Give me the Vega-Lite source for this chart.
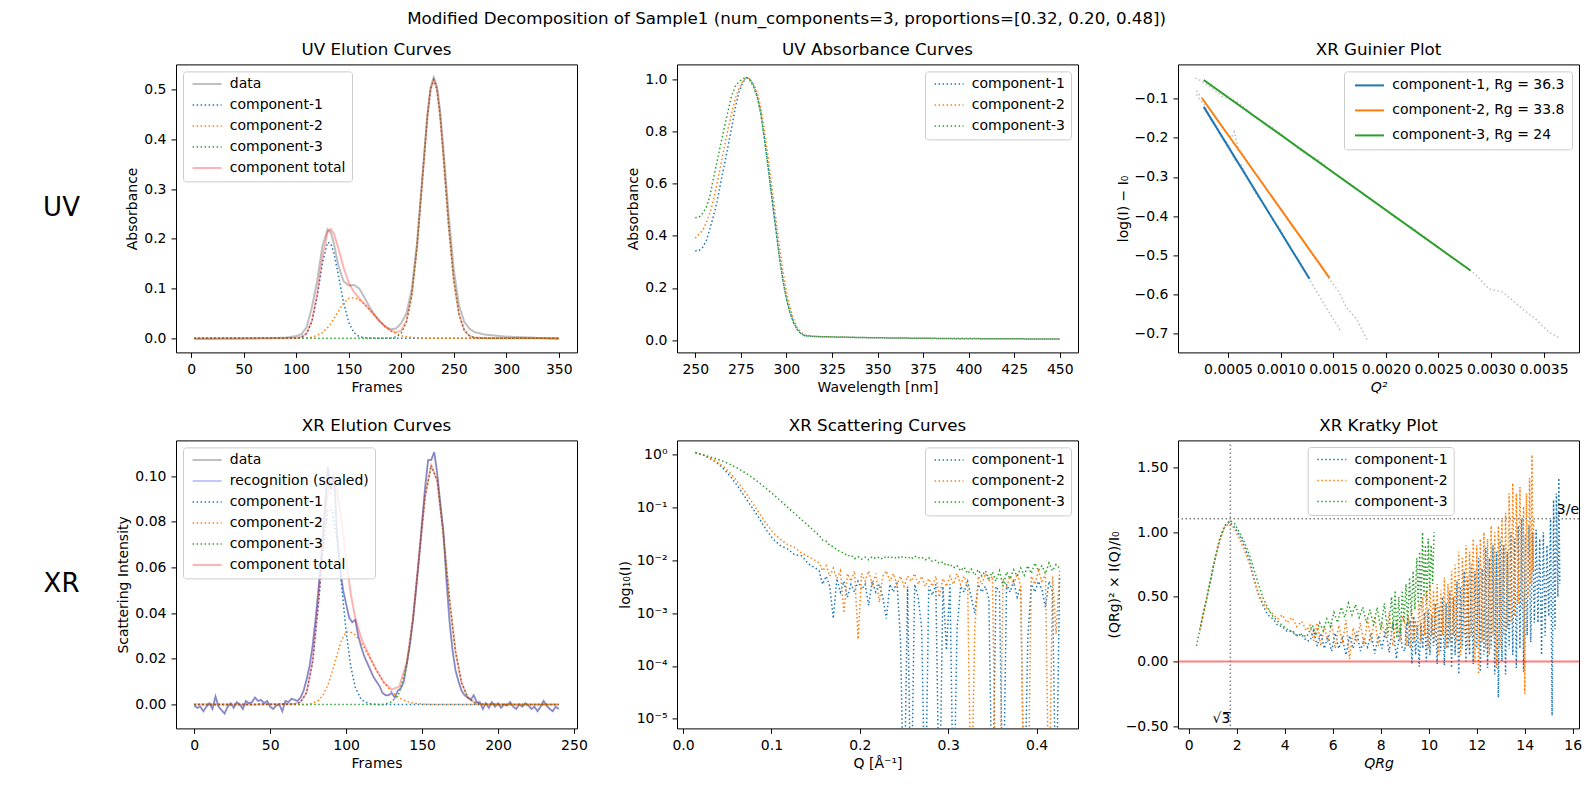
{
  "$schema": "https://vega.github.io/schema/vega-lite/v6.json",
  "title": {
    "text": "Modified Decomposition of Sample1 (num_components=3, proportions=[0.32, 0.20, 0.48])",
    "fontSize": 16.7,
    "fontWeight": "normal",
    "anchor": "middle",
    "offset": 13.7,
    "dx": -26
  },
  "padding": {"left": 43, "top": 11.4, "right": 5, "bottom": 5},
  "bounds": "flush",
  "columns": 4,
  "spacing": {"row": 88, "column": 100},
  "resolve": {
    "scale": {"x": "independent", "y": "independent", "color": "independent", "strokeDash": "independent", "strokeWidth": "independent"},
    "axis": {"x": "independent", "y": "independent"},
    "legend": {"color": "independent", "strokeDash": "independent", "strokeWidth": "independent"}
  },
  "datasets": {
    "uv_elution": [
      {"frame": 3, "data": -0.002, "component-1": 0, "component-2": 0, "component-3": 0, "component total": 0},
      {"frame": 25, "data": -0.0015, "component-1": 0, "component-2": 0, "component-3": 0, "component total": 0},
      {"frame": 50, "data": -0.001, "component-1": 0, "component-2": 0, "component-3": 0, "component total": 0},
      {"frame": 75, "data": 0.0, "component-1": 0, "component-2": 0, "component-3": 0, "component total": 0},
      {"frame": 90, "data": 0.001, "component-1": 0, "component-2": 0, "component-3": 0, "component total": 0},
      {"frame": 100, "data": 0.004, "component-1": 0.0003, "component-2": 0, "component-3": 0, "component total": 0.0003},
      {"frame": 105, "data": 0.008, "component-1": 0.0018, "component-2": 0.0002, "component-3": 0, "component total": 0.002},
      {"frame": 110, "data": 0.022, "component-1": 0.0092, "component-2": 0.0007, "component-3": 0, "component total": 0.0099},
      {"frame": 115, "data": 0.062, "component-1": 0.033, "component-2": 0.0021, "component-3": 0, "component total": 0.0351},
      {"frame": 120, "data": 0.115, "component-1": 0.084, "component-2": 0.0051, "component-3": 0, "component total": 0.0891},
      {"frame": 125, "data": 0.185, "component-1": 0.151, "component-2": 0.0111, "component-3": 0, "component total": 0.162},
      {"frame": 130, "data": 0.219, "component-1": 0.193, "component-2": 0.0212, "component-3": 0, "component total": 0.214},
      {"frame": 133, "data": 0.213, "component-1": 0.19, "component-2": 0.0295, "component-3": 0, "component total": 0.2195},
      {"frame": 136, "data": 0.19, "component-1": 0.171, "component-2": 0.0392, "component-3": 0, "component total": 0.21},
      {"frame": 140, "data": 0.148, "component-1": 0.129, "component-2": 0.0533, "component-3": 0, "component total": 0.182},
      {"frame": 145, "data": 0.115, "component-1": 0.073, "component-2": 0.0696, "component-3": 0, "component total": 0.143},
      {"frame": 150, "data": 0.106, "component-1": 0.032, "component-2": 0.0801, "component-3": 0, "component total": 0.112},
      {"frame": 155, "data": 0.107, "component-1": 0.011, "component-2": 0.0816, "component-3": 0, "component total": 0.093},
      {"frame": 160, "data": 0.1, "component-1": 0.003, "component-2": 0.0772, "component-3": 0, "component total": 0.08},
      {"frame": 165, "data": 0.082, "component-1": 0.0006, "component-2": 0.0685, "component-3": 0, "component total": 0.069},
      {"frame": 170, "data": 0.062, "component-1": 0.0001, "component-2": 0.0571, "component-3": 0, "component total": 0.057},
      {"frame": 175, "data": 0.046, "component-1": 0, "component-2": 0.0448, "component-3": 0, "component total": 0.0448},
      {"frame": 180, "data": 0.033, "component-1": 0, "component-2": 0.033, "component-3": 0, "component total": 0.033},
      {"frame": 185, "data": 0.023, "component-1": 0, "component-2": 0.0228, "component-3": 0, "component total": 0.0228},
      {"frame": 190, "data": 0.018, "component-1": 0, "component-2": 0.0148, "component-3": 0.0005, "component total": 0.0153},
      {"frame": 195, "data": 0.019, "component-1": 0, "component-2": 0.009, "component-3": 0.0025, "component total": 0.0115},
      {"frame": 200, "data": 0.03, "component-1": 0, "component-2": 0.0052, "component-3": 0.0098, "component total": 0.015},
      {"frame": 205, "data": 0.05, "component-1": 0, "component-2": 0.0028, "component-3": 0.032, "component total": 0.0348},
      {"frame": 210, "data": 0.098, "component-1": 0, "component-2": 0.0014, "component-3": 0.084, "component total": 0.0854},
      {"frame": 215, "data": 0.19, "component-1": 0, "component-2": 0.0007, "component-3": 0.181, "component total": 0.1817},
      {"frame": 220, "data": 0.32, "component-1": 0, "component-2": 0.0003, "component-3": 0.315, "component total": 0.3153},
      {"frame": 225, "data": 0.45, "component-1": 0, "component-2": 0, "component-3": 0.448, "component total": 0.448},
      {"frame": 228, "data": 0.505, "component-1": 0, "component-2": 0, "component-3": 0.501, "component total": 0.501},
      {"frame": 231, "data": 0.525, "component-1": 0, "component-2": 0, "component-3": 0.52, "component total": 0.52},
      {"frame": 234, "data": 0.508, "component-1": 0, "component-2": 0, "component-3": 0.501, "component total": 0.501},
      {"frame": 237, "data": 0.458, "component-1": 0, "component-2": 0, "component-3": 0.448, "component total": 0.448},
      {"frame": 240, "data": 0.385, "component-1": 0, "component-2": 0, "component-3": 0.372, "component total": 0.372},
      {"frame": 245, "data": 0.252, "component-1": 0, "component-2": 0, "component-3": 0.231, "component total": 0.231},
      {"frame": 250, "data": 0.138, "component-1": 0, "component-2": 0, "component-3": 0.117, "component total": 0.117},
      {"frame": 255, "data": 0.066, "component-1": 0, "component-2": 0, "component-3": 0.048, "component total": 0.048},
      {"frame": 260, "data": 0.033, "component-1": 0, "component-2": 0, "component-3": 0.016, "component total": 0.016},
      {"frame": 265, "data": 0.019, "component-1": 0, "component-2": 0, "component-3": 0.0044, "component total": 0.0044},
      {"frame": 270, "data": 0.012, "component-1": 0, "component-2": 0, "component-3": 0.001, "component total": 0.001},
      {"frame": 280, "data": 0.007, "component-1": 0, "component-2": 0, "component-3": 0, "component total": 0},
      {"frame": 300, "data": 0.003, "component-1": 0, "component-2": 0, "component-3": 0, "component total": 0},
      {"frame": 325, "data": 0.001, "component-1": 0, "component-2": 0, "component-3": 0, "component total": 0},
      {"frame": 350, "data": -0.002, "component-1": 0, "component-2": 0, "component-3": 0, "component total": 0}
    ],
    "uv_absorbance": [
      {"w": 250, "component-1": 0.342, "component-2": 0.39, "component-3": 0.469},
      {"w": 252, "component-1": 0.342, "component-2": 0.405, "component-3": 0.47},
      {"w": 254, "component-1": 0.355, "component-2": 0.42, "component-3": 0.485},
      {"w": 256, "component-1": 0.379, "component-2": 0.448, "component-3": 0.508},
      {"w": 258, "component-1": 0.425, "component-2": 0.485, "component-3": 0.55},
      {"w": 260, "component-1": 0.475, "component-2": 0.535, "component-3": 0.62},
      {"w": 262, "component-1": 0.53, "component-2": 0.6, "component-3": 0.685},
      {"w": 264, "component-1": 0.604, "component-2": 0.67, "component-3": 0.751},
      {"w": 266, "component-1": 0.672, "component-2": 0.74, "component-3": 0.815},
      {"w": 268, "component-1": 0.742, "component-2": 0.81, "component-3": 0.878},
      {"w": 270, "component-1": 0.815, "component-2": 0.87, "component-3": 0.935},
      {"w": 272, "component-1": 0.89, "component-2": 0.925, "component-3": 0.972},
      {"w": 274, "component-1": 0.95, "component-2": 0.965, "component-3": 0.99},
      {"w": 276, "component-1": 0.985, "component-2": 0.99, "component-3": 1.0},
      {"w": 278, "component-1": 1.005, "component-2": 1.005, "component-3": 1.008},
      {"w": 280, "component-1": 1.0, "component-2": 1.0, "component-3": 0.995},
      {"w": 282, "component-1": 0.975, "component-2": 0.98, "component-3": 0.97},
      {"w": 284, "component-1": 0.935, "component-2": 0.95, "component-3": 0.93},
      {"w": 286, "component-1": 0.87, "component-2": 0.89, "component-3": 0.865},
      {"w": 288, "component-1": 0.77, "component-2": 0.8, "component-3": 0.765},
      {"w": 290, "component-1": 0.665, "component-2": 0.7, "component-3": 0.66},
      {"w": 292, "component-1": 0.55, "component-2": 0.59, "component-3": 0.545},
      {"w": 294, "component-1": 0.44, "component-2": 0.48, "component-3": 0.435},
      {"w": 296, "component-1": 0.33, "component-2": 0.37, "component-3": 0.325},
      {"w": 298, "component-1": 0.235, "component-2": 0.27, "component-3": 0.23},
      {"w": 300, "component-1": 0.16, "component-2": 0.185, "component-3": 0.158},
      {"w": 302, "component-1": 0.107, "component-2": 0.125, "component-3": 0.105},
      {"w": 304, "component-1": 0.066, "component-2": 0.08, "component-3": 0.065},
      {"w": 306, "component-1": 0.04, "component-2": 0.048, "component-3": 0.04},
      {"w": 308, "component-1": 0.025, "component-2": 0.03, "component-3": 0.025},
      {"w": 310, "component-1": 0.017, "component-2": 0.02, "component-3": 0.017},
      {"w": 315, "component-1": 0.014, "component-2": 0.015, "component-3": 0.014},
      {"w": 320, "component-1": 0.013, "component-2": 0.013, "component-3": 0.013},
      {"w": 330, "component-1": 0.011, "component-2": 0.012, "component-3": 0.012},
      {"w": 340, "component-1": 0.01, "component-2": 0.01, "component-3": 0.01},
      {"w": 350, "component-1": 0.009, "component-2": 0.009, "component-3": 0.009},
      {"w": 375, "component-1": 0.007, "component-2": 0.007, "component-3": 0.007},
      {"w": 400, "component-1": 0.006, "component-2": 0.006, "component-3": 0.005},
      {"w": 425, "component-1": 0.005, "component-2": 0.005, "component-3": 0.005},
      {"w": 450, "component-1": 0.004, "component-2": 0.004, "component-3": 0.004}
    ],
    "guinier_fit": [
      {"s": "component-1, Rg = 36.3", "x": 0.000269, "y": -0.1212},
      {"s": "component-1, Rg = 36.3", "x": 0.001274, "y": -0.56},
      {"s": "component-2, Rg = 33.8", "x": 0.000253, "y": -0.0992},
      {"s": "component-2, Rg = 33.8", "x": 0.001464, "y": -0.5576},
      {"s": "component-3, Rg = 24", "x": 0.000269, "y": -0.0525},
      {"s": "component-3, Rg = 24", "x": 0.002805, "y": -0.539}
    ],
    "guinier_data": [
      {"g": 1, "x": 0.0002, "y": -0.09}, {"g": 1, "x": 0.00024, "y": -0.105}, {"g": 1, "x": 0.00028, "y": -0.118},
      {"g": 1, "x": 0.00033, "y": -0.15}, {"g": 1, "x": 0.00038, "y": -0.168}, {"g": 1, "x": 0.00044, "y": -0.2},
      {"g": 1, "x": 0.0005, "y": -0.215}, {"g": 1, "x": 0.00056, "y": -0.255}, {"g": 1, "x": 0.00063, "y": -0.27},
      {"g": 1, "x": 0.0007, "y": -0.31}, {"g": 1, "x": 0.00077, "y": -0.345}, {"g": 1, "x": 0.00085, "y": -0.375},
      {"g": 1, "x": 0.00093, "y": -0.41}, {"g": 1, "x": 0.00101, "y": -0.44}, {"g": 1, "x": 0.0011, "y": -0.485},
      {"g": 1, "x": 0.00119, "y": -0.52}, {"g": 1, "x": 0.00128, "y": -0.565}, {"g": 1, "x": 0.00137, "y": -0.605},
      {"g": 1, "x": 0.00147, "y": -0.65}, {"g": 1, "x": 0.00158, "y": -0.697},
      {"g": 2, "x": 0.0002, "y": -0.08}, {"g": 2, "x": 0.00024, "y": -0.095}, {"g": 2, "x": 0.00028, "y": -0.108},
      {"g": 2, "x": 0.00033, "y": -0.13}, {"g": 2, "x": 0.00039, "y": -0.152}, {"g": 2, "x": 0.00046, "y": -0.178},
      {"g": 2, "x": 0.00053, "y": -0.2}, {"g": 2, "x": 0.00056, "y": -0.185}, {"g": 2, "x": 0.0006, "y": -0.228},
      {"g": 2, "x": 0.00068, "y": -0.258}, {"g": 2, "x": 0.00076, "y": -0.293}, {"g": 2, "x": 0.00084, "y": -0.318},
      {"g": 2, "x": 0.00093, "y": -0.357}, {"g": 2, "x": 0.00102, "y": -0.388}, {"g": 2, "x": 0.00111, "y": -0.428},
      {"g": 2, "x": 0.0012, "y": -0.455}, {"g": 2, "x": 0.00129, "y": -0.495}, {"g": 2, "x": 0.00138, "y": -0.522},
      {"g": 2, "x": 0.00146, "y": -0.56}, {"g": 2, "x": 0.00155, "y": -0.592}, {"g": 2, "x": 0.00163, "y": -0.635},
      {"g": 2, "x": 0.00172, "y": -0.662}, {"g": 2, "x": 0.00182, "y": -0.715},
      {"g": 3, "x": 0.00019, "y": -0.047}, {"g": 3, "x": 0.00028, "y": -0.06}, {"g": 3, "x": 0.00045, "y": -0.095},
      {"g": 3, "x": 0.0006, "y": -0.11}, {"g": 3, "x": 0.00075, "y": -0.145}, {"g": 3, "x": 0.0009, "y": -0.17},
      {"g": 3, "x": 0.00105, "y": -0.2}, {"g": 3, "x": 0.0012, "y": -0.235}, {"g": 3, "x": 0.00135, "y": -0.255},
      {"g": 3, "x": 0.0015, "y": -0.29}, {"g": 3, "x": 0.00165, "y": -0.315}, {"g": 3, "x": 0.0018, "y": -0.345},
      {"g": 3, "x": 0.00195, "y": -0.375}, {"g": 3, "x": 0.0021, "y": -0.405}, {"g": 3, "x": 0.00225, "y": -0.43},
      {"g": 3, "x": 0.0024, "y": -0.46}, {"g": 3, "x": 0.00255, "y": -0.49}, {"g": 3, "x": 0.0027, "y": -0.52},
      {"g": 3, "x": 0.00285, "y": -0.548}, {"g": 3, "x": 0.00298, "y": -0.586}, {"g": 3, "x": 0.00311, "y": -0.594},
      {"g": 3, "x": 0.0033, "y": -0.637}, {"g": 3, "x": 0.00342, "y": -0.662}, {"g": 3, "x": 0.00355, "y": -0.696},
      {"g": 3, "x": 0.00365, "y": -0.711}
    ],
    "xr_elution": [
      {"f": 0, "data": -0.0005, "recognition (scaled)": -0.0005}, {"f": 2, "data": -0.0015, "recognition (scaled)": -0.0015},
      {"f": 4, "data": -0.001, "recognition (scaled)": -0.001}, {"f": 6, "data": -0.003, "recognition (scaled)": -0.003},
      {"f": 8, "data": -0.001, "recognition (scaled)": -0.001}, {"f": 10, "data": 0.0005, "recognition (scaled)": 0.0005},
      {"f": 12, "data": -0.002, "recognition (scaled)": -0.002}, {"f": 14, "data": 0.0035, "recognition (scaled)": 0.0035},
      {"f": 16, "data": -0.001, "recognition (scaled)": -0.001}, {"f": 18, "data": -0.0025, "recognition (scaled)": -0.0025},
      {"f": 20, "data": -0.004, "recognition (scaled)": -0.004}, {"f": 22, "data": -0.001, "recognition (scaled)": -0.001},
      {"f": 24, "data": 0.0005, "recognition (scaled)": 0.0005}, {"f": 26, "data": -0.0015, "recognition (scaled)": -0.0015},
      {"f": 28, "data": 0.001, "recognition (scaled)": 0.001}, {"f": 30, "data": 0.0, "recognition (scaled)": 0.0},
      {"f": 32, "data": -0.002, "recognition (scaled)": -0.002}, {"f": 34, "data": 0.0015, "recognition (scaled)": 0.0015},
      {"f": 36, "data": 0.0005, "recognition (scaled)": 0.0005}, {"f": 38, "data": 0.001, "recognition (scaled)": 0.001},
      {"f": 40, "data": 0.003, "recognition (scaled)": 0.003}, {"f": 42, "data": 0.0015, "recognition (scaled)": 0.0015},
      {"f": 44, "data": 0.002, "recognition (scaled)": 0.002}, {"f": 46, "data": 0.0005, "recognition (scaled)": 0.0005},
      {"f": 48, "data": 0.0015, "recognition (scaled)": 0.0015}, {"f": 50, "data": -0.001, "recognition (scaled)": -0.001},
      {"f": 52, "data": -0.002, "recognition (scaled)": -0.002}, {"f": 54, "data": -0.0005, "recognition (scaled)": -0.0005},
      {"f": 56, "data": 0.0, "recognition (scaled)": 0.0}, {"f": 58, "data": -0.003, "recognition (scaled)": -0.003},
      {"f": 60, "data": 0.0015, "recognition (scaled)": 0.0015}, {"f": 62, "data": 0.001, "recognition (scaled)": 0.001},
      {"f": 64, "data": 0.0025, "recognition (scaled)": 0.0025}, {"f": 66, "data": 0.002, "recognition (scaled)": 0.002},
      {"f": 68, "data": 0.0015, "recognition (scaled)": 0.0015}, {"f": 70, "data": 0.003, "recognition (scaled)": 0.003},
      {"f": 72, "data": 0.006, "recognition (scaled)": 0.006}, {"f": 74, "data": 0.011, "recognition (scaled)": 0.011},
      {"f": 76, "data": 0.017, "recognition (scaled)": 0.017}, {"f": 78, "data": 0.026, "recognition (scaled)": 0.026},
      {"f": 80, "data": 0.038, "recognition (scaled)": 0.038}, {"f": 82, "data": 0.052, "recognition (scaled)": 0.052},
      {"f": 84, "data": 0.068, "recognition (scaled)": 0.068}, {"f": 86, "data": 0.086, "recognition (scaled)": 0.086},
      {"f": 88, "data": 0.104, "recognition (scaled)": 0.104}, {"f": 90, "data": 0.094, "recognition (scaled)": 0.094},
      {"f": 92, "data": 0.1, "recognition (scaled)": 0.1}, {"f": 94, "data": 0.075, "recognition (scaled)": 0.075},
      {"f": 96, "data": 0.06, "recognition (scaled)": 0.06}, {"f": 98, "data": 0.05, "recognition (scaled)": 0.05},
      {"f": 100, "data": 0.044, "recognition (scaled)": 0.044}, {"f": 102, "data": 0.038, "recognition (scaled)": 0.038},
      {"f": 104, "data": 0.036, "recognition (scaled)": 0.036}, {"f": 106, "data": 0.037, "recognition (scaled)": 0.037},
      {"f": 108, "data": 0.03, "recognition (scaled)": 0.03}, {"f": 110, "data": 0.025, "recognition (scaled)": 0.025},
      {"f": 112, "data": 0.021, "recognition (scaled)": 0.021}, {"f": 114, "data": 0.018, "recognition (scaled)": 0.018},
      {"f": 116, "data": 0.015, "recognition (scaled)": 0.015}, {"f": 118, "data": 0.012, "recognition (scaled)": 0.012},
      {"f": 120, "data": 0.01, "recognition (scaled)": 0.01}, {"f": 122, "data": 0.008, "recognition (scaled)": 0.008},
      {"f": 124, "data": 0.005, "recognition (scaled)": 0.005}, {"f": 126, "data": 0.004, "recognition (scaled)": 0.004},
      {"f": 128, "data": 0.004, "recognition (scaled)": 0.004}, {"f": 130, "data": 0.005, "recognition (scaled)": 0.005},
      {"f": 132, "data": 0.003, "recognition (scaled)": 0.003}, {"f": 134, "data": 0.006, "recognition (scaled)": 0.006},
      {"f": 136, "data": 0.007, "recognition (scaled)": 0.007}, {"f": 138, "data": 0.01, "recognition (scaled)": 0.01},
      {"f": 140, "data": 0.018, "recognition (scaled)": 0.018}, {"f": 142, "data": 0.026, "recognition (scaled)": 0.026},
      {"f": 144, "data": 0.037, "recognition (scaled)": 0.037}, {"f": 146, "data": 0.05, "recognition (scaled)": 0.05},
      {"f": 148, "data": 0.064, "recognition (scaled)": 0.064}, {"f": 150, "data": 0.08, "recognition (scaled)": 0.08},
      {"f": 152, "data": 0.095, "recognition (scaled)": 0.095}, {"f": 154, "data": 0.107, "recognition (scaled)": 0.107},
      {"f": 156, "data": 0.107, "recognition (scaled)": 0.107}, {"f": 158, "data": 0.1105, "recognition (scaled)": 0.1105},
      {"f": 160, "data": 0.101, "recognition (scaled)": 0.101}, {"f": 162, "data": 0.088, "recognition (scaled)": 0.088},
      {"f": 164, "data": 0.076, "recognition (scaled)": 0.076}, {"f": 166, "data": 0.055, "recognition (scaled)": 0.055},
      {"f": 168, "data": 0.037, "recognition (scaled)": 0.037}, {"f": 170, "data": 0.024, "recognition (scaled)": 0.024},
      {"f": 172, "data": 0.015, "recognition (scaled)": 0.015}, {"f": 174, "data": 0.01, "recognition (scaled)": 0.01},
      {"f": 176, "data": 0.006, "recognition (scaled)": 0.006}, {"f": 178, "data": 0.004, "recognition (scaled)": 0.004},
      {"f": 180, "data": 0.003, "recognition (scaled)": 0.003}, {"f": 182, "data": 0.002, "recognition (scaled)": 0.002},
      {"f": 184, "data": 0.004, "recognition (scaled)": 0.004}, {"f": 186, "data": 0.001, "recognition (scaled)": 0.001},
      {"f": 188, "data": 0.001, "recognition (scaled)": 0.001}, {"f": 190, "data": -0.002, "recognition (scaled)": -0.002},
      {"f": 192, "data": 0.0005, "recognition (scaled)": 0.0005}, {"f": 194, "data": -0.0015, "recognition (scaled)": -0.0015},
      {"f": 196, "data": 0.001, "recognition (scaled)": 0.001}, {"f": 198, "data": -0.001, "recognition (scaled)": -0.001},
      {"f": 200, "data": 0.0005, "recognition (scaled)": 0.0005}, {"f": 202, "data": -0.0015, "recognition (scaled)": -0.0015},
      {"f": 204, "data": 0.0, "recognition (scaled)": 0.0}, {"f": 206, "data": -0.0005, "recognition (scaled)": -0.0005},
      {"f": 208, "data": 0.001, "recognition (scaled)": 0.001}, {"f": 210, "data": -0.001, "recognition (scaled)": -0.001},
      {"f": 212, "data": -0.002, "recognition (scaled)": -0.002}, {"f": 214, "data": 0.0, "recognition (scaled)": 0.0},
      {"f": 216, "data": -0.001, "recognition (scaled)": -0.001}, {"f": 218, "data": 0.0005, "recognition (scaled)": 0.0005},
      {"f": 220, "data": -0.0005, "recognition (scaled)": -0.0005}, {"f": 222, "data": -0.002, "recognition (scaled)": -0.002},
      {"f": 224, "data": -0.001, "recognition (scaled)": -0.001}, {"f": 226, "data": -0.003, "recognition (scaled)": -0.003},
      {"f": 228, "data": -0.001, "recognition (scaled)": -0.001}, {"f": 230, "data": 0.0015, "recognition (scaled)": 0.0015},
      {"f": 232, "data": -0.0005, "recognition (scaled)": -0.0005}, {"f": 234, "data": -0.002, "recognition (scaled)": -0.002},
      {"f": 236, "data": -0.003, "recognition (scaled)": -0.003}, {"f": 238, "data": -0.001, "recognition (scaled)": -0.001},
      {"f": 240, "data": -0.002, "recognition (scaled)": -0.002}
    ],
    "xr_components": [
      {"f": 0, "component-1": 0, "component-2": 0, "component-3": 0, "component total": 0},
      {"f": 40, "component-1": 0, "component-2": 0, "component-3": 0, "component total": 0},
      {"f": 66, "component-1": 0.0002, "component-2": 0, "component-3": 0, "component total": 0.0002},
      {"f": 70, "component-1": 0.001, "component-2": 0, "component-3": 0, "component total": 0.001},
      {"f": 74, "component-1": 0.0052, "component-2": 0, "component-3": 0, "component total": 0.0052},
      {"f": 78, "component-1": 0.0187, "component-2": 0.0005, "component-3": 0, "component total": 0.0192},
      {"f": 82, "component-1": 0.0455, "component-2": 0.0019, "component-3": 0, "component total": 0.0474},
      {"f": 85, "component-1": 0.0692, "component-2": 0.0043, "component-3": 0, "component total": 0.0735},
      {"f": 88, "component-1": 0.085, "component-2": 0.0085, "component-3": 0, "component total": 0.0935},
      {"f": 91, "component-1": 0.085, "component-2": 0.0147, "component-3": 0, "component total": 0.0997},
      {"f": 94, "component-1": 0.072, "component-2": 0.0218, "component-3": 0, "component total": 0.0938},
      {"f": 97, "component-1": 0.052, "component-2": 0.0282, "component-3": 0, "component total": 0.0802},
      {"f": 100, "component-1": 0.032, "component-2": 0.0317, "component-3": 0, "component total": 0.0637},
      {"f": 103, "component-1": 0.0168, "component-2": 0.0317, "component-3": 0, "component total": 0.0485},
      {"f": 106, "component-1": 0.0075, "component-2": 0.0304, "component-3": 0, "component total": 0.0379},
      {"f": 110, "component-1": 0.002, "component-2": 0.027, "component-3": 0, "component total": 0.029},
      {"f": 115, "component-1": 0.0003, "component-2": 0.0212, "component-3": 0, "component total": 0.0215},
      {"f": 120, "component-1": 0, "component-2": 0.0149, "component-3": 0, "component total": 0.0149},
      {"f": 125, "component-1": 0, "component-2": 0.0095, "component-3": 0, "component total": 0.0095},
      {"f": 130, "component-1": 0, "component-2": 0.0054, "component-3": 0.0011, "component total": 0.0065},
      {"f": 135, "component-1": 0, "component-2": 0.0028, "component-3": 0.005, "component total": 0.0078},
      {"f": 140, "component-1": 0, "component-2": 0.0013, "component-3": 0.0174, "component total": 0.0187},
      {"f": 144, "component-1": 0, "component-2": 0.0006, "component-3": 0.0371, "component total": 0.0377},
      {"f": 148, "component-1": 0, "component-2": 0.0003, "component-3": 0.0645, "component total": 0.0648},
      {"f": 152, "component-1": 0, "component-2": 0.0001, "component-3": 0.091, "component total": 0.0911},
      {"f": 156, "component-1": 0, "component-2": 0, "component-3": 0.1047, "component total": 0.1047},
      {"f": 160, "component-1": 0, "component-2": 0, "component-3": 0.0979, "component total": 0.0979},
      {"f": 164, "component-1": 0, "component-2": 0, "component-3": 0.0745, "component total": 0.0745},
      {"f": 168, "component-1": 0, "component-2": 0, "component-3": 0.0461, "component total": 0.0461},
      {"f": 172, "component-1": 0, "component-2": 0, "component-3": 0.0232, "component total": 0.0232},
      {"f": 176, "component-1": 0, "component-2": 0, "component-3": 0.0095, "component total": 0.0095},
      {"f": 180, "component-1": 0, "component-2": 0, "component-3": 0.0032, "component total": 0.0032},
      {"f": 185, "component-1": 0, "component-2": 0, "component-3": 0.0006, "component total": 0.0006},
      {"f": 190, "component-1": 0, "component-2": 0, "component-3": 0.0001, "component total": 0.0001},
      {"f": 200, "component-1": 0, "component-2": 0, "component-3": 0, "component total": 0},
      {"f": 240, "component-1": 0, "component-2": 0, "component-3": 0, "component total": 0}
    ],
    "xr_scattering": [
      {"q": 0.014, "component-1": 1.096, "component-2": 1.096, "component-3": 1.096},
      {"q": 0.022, "component-1": 1.0, "component-2": 1.0, "component-3": 1.0},
      {"q": 0.030, "component-1": 0.851, "component-2": 0.871, "component-3": 0.912},
      {"q": 0.038, "component-1": 0.708, "component-2": 0.741, "component-3": 0.832},
      {"q": 0.046, "component-1": 0.537, "component-2": 0.589, "component-3": 0.741},
      {"q": 0.054, "component-1": 0.38, "component-2": 0.437, "component-3": 0.646},
      {"q": 0.062, "component-1": 0.251, "component-2": 0.302, "component-3": 0.55},
      {"q": 0.070, "component-1": 0.158, "component-2": 0.2, "component-3": 0.457},
      {"q": 0.078, "component-1": 0.1, "component-2": 0.126, "component-3": 0.372},
      {"q": 0.086, "component-1": 0.063, "component-2": 0.079, "component-3": 0.295},
      {"q": 0.094, "component-1": 0.038, "component-2": 0.05, "component-3": 0.229},
      {"q": 0.102, "component-1": 0.0251, "component-2": 0.0331, "component-3": 0.178},
      {"q": 0.110, "component-1": 0.019, "component-2": 0.0251, "component-3": 0.135},
      {"q": 0.118, "component-1": 0.0165, "component-2": 0.02, "component-3": 0.102},
      {"q": 0.126, "component-1": 0.0128, "component-2": 0.0175, "component-3": 0.0776},
      {"q": 0.134, "component-1": 0.0122, "component-2": 0.0138, "component-3": 0.0589},
      {"q": 0.142, "component-1": 0.0085, "component-2": 0.0117, "component-3": 0.0447},
      {"q": 0.150, "component-1": 0.0071, "component-2": 0.0098, "component-3": 0.0339},
      {"q": 0.154, "component-1": 0.0063, "component-2": 0.0089, "component-3": 0.0295},
      {"q": 0.158, "component-1": 0.0035, "component-2": 0.0063, "component-3": 0.024},
      {"q": 0.162, "component-1": 0.005, "component-2": 0.0079, "component-3": 0.0229},
      {"q": 0.166, "component-1": 0.0032, "component-2": 0.005, "component-3": 0.019},
      {"q": 0.170, "component-1": 0.00079, "component-2": 0.0071, "component-3": 0.0182},
      {"q": 0.174, "component-1": 0.0045, "component-2": 0.0045, "component-3": 0.0158},
      {"q": 0.178, "component-1": 0.0025, "component-2": 0.0063, "component-3": 0.0145},
      {"q": 0.182, "component-1": 0.004, "component-2": 0.001, "component-3": 0.0138},
      {"q": 0.186, "component-1": 0.002, "component-2": 0.0056, "component-3": 0.012},
      {"q": 0.190, "component-1": 0.0035, "component-2": 0.004, "component-3": 0.0126},
      {"q": 0.194, "component-1": 0.0025, "component-2": 0.0063, "component-3": 0.0107},
      {"q": 0.198, "component-1": 0.004, "component-2": 0.00032, "component-3": 0.0117},
      {"q": 0.202, "component-1": 0.0028, "component-2": 0.0056, "component-3": 0.0105},
      {"q": 0.206, "component-1": 0.0035, "component-2": 0.004, "component-3": 0.0115},
      {"q": 0.210, "component-1": 0.0014, "component-2": 0.0063, "component-3": 0.0102},
      {"q": 0.214, "component-1": 0.004, "component-2": 0.0035, "component-3": 0.0117},
      {"q": 0.218, "component-1": 0.0025, "component-2": 0.0056, "component-3": 0.0107},
      {"q": 0.222, "component-1": 0.0035, "component-2": 0.0016, "component-3": 0.0115},
      {"q": 0.226, "component-1": 0.002, "component-2": 0.005, "component-3": 0.0105},
      {"q": 0.230, "component-1": 0.00079, "component-2": 0.0063, "component-3": 0.012},
      {"q": 0.234, "component-1": 0.0035, "component-2": 0.004, "component-3": 0.011},
      {"q": 0.238, "component-1": 0.0025, "component-2": 0.0056, "component-3": 0.0117},
      {"q": 0.242, "component-1": 0.004, "component-2": 0.0035, "component-3": 0.0107},
      {"q": 0.246, "component-1": 0.00032, "component-2": 0.005, "component-3": 0.012},
      {"q": 0.250, "component-1": 0.0000001, "component-2": 0.0032, "component-3": 0.011},
      {"q": 0.254, "component-1": 0.0032, "component-2": 0.005, "component-3": 0.0117},
      {"q": 0.258, "component-1": 0.0000001, "component-2": 0.004, "component-3": 0.0105},
      {"q": 0.262, "component-1": 0.0035, "component-2": 0.0056, "component-3": 0.012},
      {"q": 0.266, "component-1": 0.002, "component-2": 0.0035, "component-3": 0.011},
      {"q": 0.270, "component-1": 0.0005, "component-2": 0.005, "component-3": 0.0115},
      {"q": 0.274, "component-1": 0.0000001, "component-2": 0.0032, "component-3": 0.0102},
      {"q": 0.278, "component-1": 0.0032, "component-2": 0.0045, "component-3": 0.0112},
      {"q": 0.282, "component-1": 0.0022, "component-2": 0.0032, "component-3": 0.0095},
      {"q": 0.286, "component-1": 0.0035, "component-2": 0.005, "component-3": 0.01},
      {"q": 0.290, "component-1": 0.0000001, "component-2": 0.002, "component-3": 0.0087},
      {"q": 0.294, "component-1": 0.0032, "component-2": 0.0045, "component-3": 0.0093},
      {"q": 0.298, "component-1": 0.0002, "component-2": 0.0032, "component-3": 0.0079},
      {"q": 0.302, "component-1": 0.0035, "component-2": 0.005, "component-3": 0.0085},
      {"q": 0.306, "component-1": 0.0000001, "component-2": 0.0035, "component-3": 0.0072},
      {"q": 0.310, "component-1": 0.0005, "component-2": 0.0056, "component-3": 0.0079},
      {"q": 0.314, "component-1": 0.0032, "component-2": 0.0035, "component-3": 0.0063},
      {"q": 0.318, "component-1": 0.0025, "component-2": 0.005, "component-3": 0.0074},
      {"q": 0.322, "component-1": 0.004, "component-2": 0.0032, "component-3": 0.0056},
      {"q": 0.326, "component-1": 0.002, "component-2": 0.0000001, "component-3": 0.0068},
      {"q": 0.330, "component-1": 0.001, "component-2": 0.0005, "component-3": 0.0052},
      {"q": 0.334, "component-1": 0.0035, "component-2": 0.005, "component-3": 0.0066},
      {"q": 0.338, "component-1": 0.0025, "component-2": 0.0035, "component-3": 0.005},
      {"q": 0.342, "component-1": 0.0032, "component-2": 0.0056, "component-3": 0.0063},
      {"q": 0.346, "component-1": 0.0018, "component-2": 0.004, "component-3": 0.0045},
      {"q": 0.350, "component-1": 0.0000001, "component-2": 0.005, "component-3": 0.006},
      {"q": 0.354, "component-1": 0.0032, "component-2": 0.0000001, "component-3": 0.004},
      {"q": 0.358, "component-1": 0.0025, "component-2": 0.0000001, "component-3": 0.0063},
      {"q": 0.362, "component-1": 0.0000001, "component-2": 0.0045, "component-3": 0.0032},
      {"q": 0.366, "component-1": 0.0035, "component-2": 0.0032, "component-3": 0.006},
      {"q": 0.370, "component-1": 0.0025, "component-2": 0.005, "component-3": 0.0045},
      {"q": 0.374, "component-1": 0.004, "component-2": 0.0035, "component-3": 0.0066},
      {"q": 0.378, "component-1": 0.002, "component-2": 0.0056, "component-3": 0.005},
      {"q": 0.382, "component-1": 0.0032, "component-2": 0.0032, "component-3": 0.0071},
      {"q": 0.386, "component-1": 0.0000001, "component-2": 0.0000001, "component-3": 0.0052},
      {"q": 0.390, "component-1": 0.00032, "component-2": 0.0000001, "component-3": 0.0079},
      {"q": 0.394, "component-1": 0.0035, "component-2": 0.005, "component-3": 0.0056},
      {"q": 0.398, "component-1": 0.0025, "component-2": 0.0035, "component-3": 0.0089},
      {"q": 0.402, "component-1": 0.004, "component-2": 0.0063, "component-3": 0.0063},
      {"q": 0.406, "component-1": 0.0028, "component-2": 0.004, "component-3": 0.0079},
      {"q": 0.410, "component-1": 0.0013, "component-2": 0.0056, "component-3": 0.0056},
      {"q": 0.414, "component-1": 0.004, "component-2": 0.0000001, "component-3": 0.0089},
      {"q": 0.418, "component-1": 0.0025, "component-2": 0.005, "component-3": 0.0063},
      {"q": 0.422, "component-1": 0.0000001, "component-2": 0.0004, "component-3": 0.0083},
      {"q": 0.426, "component-1": 0.005, "component-2": 0.0063, "component-3": 0.0071}
    ],
    "kratky_1": [
      {"x": 0.49, "y": 0.27}, {"x": 0.7, "y": 0.45}, {"x": 0.9, "y": 0.62}, {"x": 1.1, "y": 0.8}, {"x": 1.3, "y": 0.95},
      {"x": 1.5, "y": 1.05}, {"x": 1.7, "y": 1.08}, {"x": 1.9, "y": 1.04}, {"x": 2.1, "y": 0.98}, {"x": 2.3, "y": 0.9},
      {"x": 2.5, "y": 0.8}, {"x": 2.7, "y": 0.65}, {"x": 2.9, "y": 0.52}, {"x": 3.1, "y": 0.43}, {"x": 3.3, "y": 0.36},
      {"x": 3.5, "y": 0.33}, {"x": 3.7, "y": 0.28}, {"x": 3.9, "y": 0.27}, {"x": 4.1, "y": 0.23}, {"x": 4.3, "y": 0.24},
      {"x": 4.5, "y": 0.2}, {"x": 4.7, "y": 0.21}, {"x": 4.9, "y": 0.16},
      {"x": 5.05, "y": 0.16}, {"x": 5.2, "y": 0.24}, {"x": 5.35, "y": 0.12}, {"x": 5.5, "y": 0.22}, {"x": 5.65, "y": 0.1},
      {"x": 5.8, "y": 0.2}, {"x": 5.95, "y": 0.08}, {"x": 6.1, "y": 0.22}, {"x": 6.25, "y": 0.1}, {"x": 6.4, "y": 0.18},
      {"x": 6.55, "y": 0.05}, {"x": 6.7, "y": 0.2}, {"x": 6.85, "y": 0.1}, {"x": 7.0, "y": 0.23}, {"x": 7.15, "y": 0.08},
      {"x": 7.3, "y": 0.17}, {"x": 7.45, "y": 0.11}, {"x": 7.6, "y": 0.22}, {"x": 7.75, "y": 0.06}, {"x": 7.9, "y": 0.2},
      {"x": 8.05, "y": 0.1}, {"x": 8.2, "y": 0.25}, {"x": 8.35, "y": 0.07}, {"x": 8.5, "y": 0.3}, {"x": 8.65, "y": 0.02},
      {"x": 8.8, "y": 0.26}, {"x": 8.9, "y": 0.1},
      {"x": 9.0, "y": 0.08}, {"x": 9.075, "y": 0.3}, {"x": 9.15, "y": 0.12}, {"x": 9.225, "y": 0.32}, {"x": 9.3, "y": -0.02},
      {"x": 9.375, "y": 0.35}, {"x": 9.45, "y": 0.05}, {"x": 9.525, "y": 0.28}, {"x": 9.6, "y": -0.04}, {"x": 9.675, "y": 0.3},
      {"x": 9.75, "y": 0.1}, {"x": 9.825, "y": 0.38}, {"x": 9.9, "y": 0.0}, {"x": 9.975, "y": 0.4}, {"x": 10.05, "y": 0.05},
      {"x": 10.125, "y": 0.36}, {"x": 10.2, "y": 0.12}, {"x": 10.275, "y": 0.45}, {"x": 10.35, "y": -0.02}, {"x": 10.425, "y": 0.42},
      {"x": 10.5, "y": 0.08}, {"x": 10.575, "y": 0.5}, {"x": 10.65, "y": -0.03}, {"x": 10.725, "y": 0.45}, {"x": 10.8, "y": 0.1},
      {"x": 10.875, "y": 0.55}, {"x": 10.95, "y": -0.05}, {"x": 11.025, "y": 0.5}, {"x": 11.1, "y": 0.05}, {"x": 11.175, "y": 0.62},
      {"x": 11.25, "y": -0.1}, {"x": 11.325, "y": 0.58}, {"x": 11.4, "y": 0.1}, {"x": 11.475, "y": 0.7}, {"x": 11.55, "y": 0.0},
      {"x": 11.625, "y": 0.65}, {"x": 11.7, "y": 0.05}, {"x": 11.775, "y": 0.75}, {"x": 11.85, "y": -0.02}, {"x": 11.925, "y": 0.7},
      {"x": 12.0, "y": 0.1}, {"x": 12.075, "y": 0.8}, {"x": 12.15, "y": -0.08}, {"x": 12.225, "y": 0.72}, {"x": 12.3, "y": 0.05},
      {"x": 12.375, "y": 0.88}, {"x": 12.45, "y": -0.05}, {"x": 12.525, "y": 0.8}, {"x": 12.6, "y": 0.1}, {"x": 12.675, "y": 0.9},
      {"x": 12.75, "y": -0.1}, {"x": 12.825, "y": 0.85}, {"x": 12.9, "y": -0.28}, {"x": 12.975, "y": 0.95}, {"x": 13.05, "y": 0.0},
      {"x": 13.125, "y": 0.9}, {"x": 13.2, "y": -0.1}, {"x": 13.275, "y": 0.85}, {"x": 13.35, "y": 0.1}, {"x": 13.425, "y": 1.0},
      {"x": 13.5, "y": 0.05}, {"x": 13.575, "y": 0.95}, {"x": 13.65, "y": -0.05}, {"x": 13.725, "y": 1.05}, {"x": 13.8, "y": 0.1},
      {"x": 13.875, "y": 1.1}, {"x": 13.95, "y": -0.08}, {"x": 14.025, "y": 0.98}, {"x": 14.1, "y": 0.2}, {"x": 14.175, "y": 1.05},
      {"x": 14.25, "y": 0.15}, {"x": 14.325, "y": 1.0}, {"x": 14.4, "y": 0.3}, {"x": 14.475, "y": 1.02}, {"x": 14.55, "y": 0.3},
      {"x": 14.625, "y": 0.95}, {"x": 14.7, "y": 0.05}, {"x": 14.775, "y": 1.0}, {"x": 14.85, "y": 0.2}, {"x": 14.925, "y": 0.9},
      {"x": 15.0, "y": 0.35}, {"x": 15.075, "y": 1.1}, {"x": 15.14, "y": -0.42}, {"x": 15.2, "y": 1.25}, {"x": 15.26, "y": 0.25},
      {"x": 15.32, "y": 1.3}, {"x": 15.38, "y": 0.5}, {"x": 15.42, "y": 1.42}, {"x": 15.46, "y": 0.6}
    ],
    "kratky_2": [
      {"x": 0.46, "y": 0.25}, {"x": 0.7, "y": 0.45}, {"x": 0.9, "y": 0.62}, {"x": 1.1, "y": 0.8}, {"x": 1.3, "y": 0.94},
      {"x": 1.5, "y": 1.04}, {"x": 1.7, "y": 1.07}, {"x": 1.9, "y": 1.03}, {"x": 2.1, "y": 0.95}, {"x": 2.3, "y": 0.87},
      {"x": 2.5, "y": 0.77}, {"x": 2.7, "y": 0.64}, {"x": 2.9, "y": 0.53}, {"x": 3.1, "y": 0.45}, {"x": 3.3, "y": 0.4},
      {"x": 3.5, "y": 0.37}, {"x": 3.7, "y": 0.33}, {"x": 3.9, "y": 0.36}, {"x": 4.1, "y": 0.3}, {"x": 4.3, "y": 0.34},
      {"x": 4.5, "y": 0.27}, {"x": 4.7, "y": 0.31}, {"x": 4.9, "y": 0.24},
      {"x": 5.05, "y": 0.28}, {"x": 5.2, "y": 0.16}, {"x": 5.35, "y": 0.3}, {"x": 5.5, "y": 0.12}, {"x": 5.65, "y": 0.27},
      {"x": 5.8, "y": 0.15}, {"x": 5.95, "y": 0.3}, {"x": 6.1, "y": 0.1}, {"x": 6.25, "y": 0.28}, {"x": 6.4, "y": 0.14},
      {"x": 6.55, "y": 0.32}, {"x": 6.7, "y": 0.02}, {"x": 6.85, "y": 0.26}, {"x": 7.0, "y": 0.15}, {"x": 7.15, "y": 0.3},
      {"x": 7.3, "y": 0.12}, {"x": 7.45, "y": 0.33}, {"x": 7.6, "y": 0.15}, {"x": 7.75, "y": 0.35}, {"x": 7.9, "y": 0.12},
      {"x": 8.05, "y": 0.3}, {"x": 8.2, "y": 0.18}, {"x": 8.35, "y": 0.38}, {"x": 8.5, "y": 0.12}, {"x": 8.65, "y": 0.32},
      {"x": 8.8, "y": 0.15}, {"x": 8.9, "y": 0.35},
      {"x": 9.0, "y": 0.3}, {"x": 9.075, "y": 0.12}, {"x": 9.15, "y": 0.35}, {"x": 9.225, "y": 0.1}, {"x": 9.3, "y": 0.4},
      {"x": 9.375, "y": 0.15}, {"x": 9.45, "y": 0.32}, {"x": 9.525, "y": 0.2}, {"x": 9.6, "y": 0.45}, {"x": 9.675, "y": 0.15},
      {"x": 9.75, "y": 0.5}, {"x": 9.825, "y": 0.2}, {"x": 9.9, "y": 0.55}, {"x": 9.975, "y": 0.1}, {"x": 10.05, "y": 0.6},
      {"x": 10.125, "y": 0.2}, {"x": 10.2, "y": 0.55}, {"x": 10.275, "y": 0.15}, {"x": 10.35, "y": 0.6}, {"x": 10.425, "y": 0.05},
      {"x": 10.5, "y": 0.55}, {"x": 10.575, "y": 0.2}, {"x": 10.65, "y": 0.65}, {"x": 10.725, "y": 0.1}, {"x": 10.8, "y": 0.6},
      {"x": 10.875, "y": 0.15}, {"x": 10.95, "y": 0.7}, {"x": 11.025, "y": 0.2}, {"x": 11.1, "y": 0.75}, {"x": 11.175, "y": 0.15},
      {"x": 11.25, "y": 0.85}, {"x": 11.325, "y": 0.05}, {"x": 11.4, "y": 0.8}, {"x": 11.475, "y": 0.2}, {"x": 11.55, "y": 0.9},
      {"x": 11.625, "y": 0.1}, {"x": 11.7, "y": 0.85}, {"x": 11.775, "y": 0.2}, {"x": 11.85, "y": 0.95}, {"x": 11.925, "y": 0.0},
      {"x": 12.0, "y": 0.9}, {"x": 12.075, "y": -0.1}, {"x": 12.15, "y": 0.95}, {"x": 12.225, "y": 0.15}, {"x": 12.3, "y": 1.0},
      {"x": 12.375, "y": 0.1}, {"x": 12.45, "y": 0.95}, {"x": 12.525, "y": 0.05}, {"x": 12.6, "y": 1.05}, {"x": 12.675, "y": 0.2},
      {"x": 12.75, "y": 1.0}, {"x": 12.825, "y": -0.05}, {"x": 12.9, "y": 1.05}, {"x": 12.975, "y": 0.1}, {"x": 13.05, "y": 1.1},
      {"x": 13.125, "y": 0.2}, {"x": 13.2, "y": 1.15}, {"x": 13.275, "y": 0.25}, {"x": 13.35, "y": 1.3}, {"x": 13.425, "y": 0.3},
      {"x": 13.5, "y": 1.38}, {"x": 13.575, "y": 0.35}, {"x": 13.65, "y": 1.3}, {"x": 13.725, "y": 0.45}, {"x": 13.8, "y": 1.35},
      {"x": 13.875, "y": 0.4}, {"x": 13.95, "y": 1.2}, {"x": 14.0, "y": -0.25}, {"x": 14.07, "y": 1.3}, {"x": 14.14, "y": 0.5},
      {"x": 14.2, "y": 1.42}, {"x": 14.26, "y": 0.6}, {"x": 14.3, "y": 1.6}, {"x": 14.34, "y": 0.7}, {"x": 14.38, "y": 1.1}
    ],
    "kratky_3": [
      {"x": 0.32, "y": 0.12}, {"x": 0.5, "y": 0.28}, {"x": 0.7, "y": 0.45}, {"x": 0.9, "y": 0.63}, {"x": 1.1, "y": 0.81},
      {"x": 1.3, "y": 0.96}, {"x": 1.5, "y": 1.05}, {"x": 1.7, "y": 1.09}, {"x": 1.9, "y": 1.07}, {"x": 2.1, "y": 1.0},
      {"x": 2.3, "y": 0.93}, {"x": 2.5, "y": 0.84}, {"x": 2.7, "y": 0.72}, {"x": 2.9, "y": 0.6}, {"x": 3.1, "y": 0.49},
      {"x": 3.3, "y": 0.41}, {"x": 3.5, "y": 0.35}, {"x": 3.7, "y": 0.31}, {"x": 3.9, "y": 0.28}, {"x": 4.1, "y": 0.25},
      {"x": 4.3, "y": 0.23}, {"x": 4.5, "y": 0.2}, {"x": 4.7, "y": 0.21}, {"x": 4.9, "y": 0.19},
      {"x": 5.0, "y": 0.22}, {"x": 5.15, "y": 0.28}, {"x": 5.3, "y": 0.2}, {"x": 5.45, "y": 0.3}, {"x": 5.6, "y": 0.24},
      {"x": 5.75, "y": 0.33}, {"x": 5.9, "y": 0.27}, {"x": 6.05, "y": 0.38}, {"x": 6.2, "y": 0.3}, {"x": 6.35, "y": 0.42},
      {"x": 6.5, "y": 0.34}, {"x": 6.65, "y": 0.45}, {"x": 6.8, "y": 0.36}, {"x": 6.95, "y": 0.44}, {"x": 7.1, "y": 0.34},
      {"x": 7.25, "y": 0.42}, {"x": 7.4, "y": 0.3}, {"x": 7.55, "y": 0.4}, {"x": 7.7, "y": 0.28}, {"x": 7.85, "y": 0.42},
      {"x": 8.0, "y": 0.25}, {"x": 8.15, "y": 0.45}, {"x": 8.3, "y": 0.2}, {"x": 8.45, "y": 0.5},
      {"x": 8.52, "y": 0.25}, {"x": 8.6, "y": 0.55}, {"x": 8.67, "y": 0.18}, {"x": 8.75, "y": 0.5}, {"x": 8.82, "y": 0.22},
      {"x": 8.9, "y": 0.55}, {"x": 8.97, "y": 0.3}, {"x": 9.05, "y": 0.6}, {"x": 9.12, "y": 0.28}, {"x": 9.2, "y": 0.65},
      {"x": 9.27, "y": 0.35}, {"x": 9.35, "y": 0.7}, {"x": 9.42, "y": 0.4}, {"x": 9.5, "y": 0.8}, {"x": 9.56, "y": 0.45},
      {"x": 9.62, "y": 0.85}, {"x": 9.68, "y": 0.4}, {"x": 9.74, "y": 1.0}, {"x": 9.8, "y": 0.5}, {"x": 9.86, "y": 0.9},
      {"x": 9.92, "y": 0.45}, {"x": 9.98, "y": 0.95}, {"x": 10.04, "y": 0.55}, {"x": 10.1, "y": 0.9}, {"x": 10.16, "y": 0.6},
      {"x": 10.22, "y": 1.0}
    ]
  },
  "concat": [
    {
      "width": 29,
      "height": 288,
      "view": {"stroke": null},
      "data": {"values": [{"row": "UV"}]},
      "mark": {"type": "text", "fontSize": 26, "color": "black", "baseline": "middle", "align": "center"},
      "encoding": {"text": {"field": "row", "type": "nominal"}}
    },
    {
      "title": "UV Elution Curves",
      "width": 401,
      "height": 288,
      "data": {"name": "uv_elution"},
      "transform": [{"fold": ["data", "component-1", "component-2", "component-3", "component total"], "as": ["series", "absorbance"]}],
      "mark": {"type": "line", "clip": true, "strokeCap": "butt"},
      "encoding": {
        "x": {"field": "frame", "type": "quantitative", "title": "Frames", "scale": {"domain": [-14.35, 367.35], "nice": false, "zero": false}, "axis": {"values": [0, 50, 100, 150, 200, 250, 300, 350]}},
        "y": {"field": "absorbance", "type": "quantitative", "title": "Absorbance", "scale": {"domain": [-0.0287, 0.551], "nice": false, "zero": false}, "axis": {"values": [0, 0.1, 0.2, 0.3, 0.4, 0.5], "format": ".1f"}},
        "color": {"field": "series", "type": "nominal", "scale": {"domain": ["data", "component-1", "component-2", "component-3", "component total"], "range": ["rgba(128,128,128,0.5)", "#1f77b4", "#ff7f0e", "#2ca02c", "rgba(255,0,0,0.3)"]}, "legend": {"title": null, "orient": "top-left"}},
        "strokeDash": {"field": "series", "type": "nominal", "scale": {"domain": ["data", "component-1", "component-2", "component-3", "component total"], "range": [[1, 0], [1.5, 2.5], [1.5, 2.5], [1.5, 2.5], [1, 0]]}, "legend": {"title": null, "orient": "top-left"}},
        "strokeWidth": {"field": "series", "type": "nominal", "scale": {"type": "ordinal", "domain": ["data", "component-1", "component-2", "component-3", "component total"], "range": [2, 1.5, 1.5, 1.5, 2]}, "legend": {"title": null, "orient": "top-left"}}
      }
    },
    {
      "title": "UV Absorbance Curves",
      "width": 401,
      "height": 288,
      "data": {"name": "uv_absorbance"},
      "transform": [{"fold": ["component-1", "component-2", "component-3"], "as": ["series", "absorbance"]}],
      "mark": {"type": "line", "clip": true, "strokeCap": "butt", "strokeDash": [1.5, 2.5], "strokeWidth": 1.5},
      "encoding": {
        "x": {"field": "w", "type": "quantitative", "title": "Wavelength [nm]", "scale": {"domain": [240, 460], "nice": false, "zero": false}, "axis": {"values": [250, 275, 300, 325, 350, 375, 400, 425, 450]}},
        "y": {"field": "absorbance", "type": "quantitative", "title": "Absorbance", "scale": {"domain": [-0.047, 1.056], "nice": false, "zero": false}, "axis": {"values": [0, 0.2, 0.4, 0.6, 0.8, 1.0], "format": ".1f"}},
        "color": {"field": "series", "type": "nominal", "scale": {"domain": ["component-1", "component-2", "component-3"], "range": ["#1f77b4", "#ff7f0e", "#2ca02c"]}, "legend": {"title": null, "orient": "top-right", "symbolDash": [1.5, 2.5]}}
      }
    },
    {
      "title": "XR Guinier Plot",
      "width": 401,
      "height": 288,
      "layer": [
        {
          "data": {"name": "guinier_data"},
          "mark": {"type": "line", "clip": true, "strokeCap": "butt", "stroke": "rgba(128,128,128,0.5)", "strokeDash": [1.5, 2.5], "strokeWidth": 1.5},
          "encoding": {
            "x": {"field": "x", "type": "quantitative", "title": "Q²", "scale": {"domain": [0.0000244, 0.003836], "nice": false, "zero": false}, "axis": {"values": [0.0005, 0.001, 0.0015, 0.002, 0.0025, 0.003, 0.0035], "format": ".4f", "titleFontStyle": "italic"}},
            "y": {"field": "y", "type": "quantitative", "title": "log(I) − I₀", "scale": {"domain": [-0.748, -0.0127], "nice": false, "zero": false}, "axis": {"values": [-0.7, -0.6, -0.5, -0.4, -0.3, -0.2, -0.1], "format": ".1f"}},
            "detail": {"field": "g", "type": "nominal"}
          }
        },
        {
          "data": {"name": "guinier_fit"},
          "mark": {"type": "line", "clip": true, "strokeWidth": 2},
          "encoding": {
            "x": {"field": "x", "type": "quantitative", "title": "Q²"},
            "y": {"field": "y", "type": "quantitative", "title": "log(I) − I₀"},
            "color": {"field": "s", "type": "nominal", "scale": {"domain": ["component-1, Rg = 36.3", "component-2, Rg = 33.8", "component-3, Rg = 24"], "range": ["#1f77b4", "#ff7f0e", "#2ca02c"]}, "legend": {"title": null, "orient": "top-right", "rowPadding": 11, "padding": 7, "symbolStrokeWidth": 2}}
          }
        }
      ]
    },
    {
      "width": 29,
      "height": 288,
      "view": {"stroke": null},
      "data": {"values": [{"row": "XR"}]},
      "mark": {"type": "text", "fontSize": 26, "color": "black", "baseline": "middle", "align": "center"},
      "encoding": {"text": {"field": "row", "type": "nominal"}}
    },
    {
      "title": "XR Elution Curves",
      "width": 401,
      "height": 288,
      "layer": [
        {
          "data": {"name": "xr_elution"},
          "transform": [{"fold": ["data", "recognition (scaled)"], "as": ["series", "v"]}],
          "mark": {"type": "line", "clip": true, "strokeCap": "butt"},
          "encoding": {
            "x": {"field": "f", "type": "quantitative", "title": "Frames", "scale": {"domain": [-12, 252], "nice": false, "zero": false}, "axis": {"values": [0, 50, 100, 150, 200, 250]}},
            "y": {"field": "v", "type": "quantitative", "title": "Scattering Intensity", "scale": {"domain": [-0.0105, 0.1156], "nice": false, "zero": false}, "axis": {"values": [0, 0.02, 0.04, 0.06, 0.08, 0.1], "format": ".2f"}},
            "color": {"field": "series", "type": "nominal", "scale": {"domain": ["data", "recognition (scaled)", "component-1", "component-2", "component-3", "component total"], "range": ["rgba(128,128,128,0.5)", "rgba(0,0,255,0.3)", "#1f77b4", "#ff7f0e", "#2ca02c", "rgba(255,0,0,0.3)"]}, "legend": {"title": null, "orient": "top-left"}},
            "strokeDash": {"field": "series", "type": "nominal", "scale": {"domain": ["data", "recognition (scaled)", "component-1", "component-2", "component-3", "component total"], "range": [[1, 0], [1, 0], [1.5, 2.5], [1.5, 2.5], [1.5, 2.5], [1, 0]]}, "legend": {"title": null, "orient": "top-left"}},
            "strokeWidth": {"field": "series", "type": "nominal", "scale": {"type": "ordinal", "domain": ["data", "recognition (scaled)", "component-1", "component-2", "component-3", "component total"], "range": [2, 1.5, 1.5, 1.5, 1.5, 2]}, "legend": {"title": null, "orient": "top-left"}}
          }
        },
        {
          "data": {"name": "xr_components"},
          "transform": [{"fold": ["component-1", "component-2", "component-3", "component total"], "as": ["series", "v"]}],
          "mark": {"type": "line", "clip": true, "strokeCap": "butt"},
          "encoding": {
            "x": {"field": "f", "type": "quantitative", "title": "Frames"},
            "y": {"field": "v", "type": "quantitative", "title": "Scattering Intensity"},
            "color": {"field": "series", "type": "nominal", "scale": {"domain": ["data", "recognition (scaled)", "component-1", "component-2", "component-3", "component total"], "range": ["rgba(128,128,128,0.5)", "rgba(0,0,255,0.3)", "#1f77b4", "#ff7f0e", "#2ca02c", "rgba(255,0,0,0.3)"]}, "legend": {"title": null, "orient": "top-left"}},
            "strokeDash": {"field": "series", "type": "nominal", "scale": {"domain": ["data", "recognition (scaled)", "component-1", "component-2", "component-3", "component total"], "range": [[1, 0], [1, 0], [1.5, 2.5], [1.5, 2.5], [1.5, 2.5], [1, 0]]}, "legend": {"title": null, "orient": "top-left"}},
            "strokeWidth": {"field": "series", "type": "nominal", "scale": {"type": "ordinal", "domain": ["data", "recognition (scaled)", "component-1", "component-2", "component-3", "component total"], "range": [2, 1.5, 1.5, 1.5, 1.5, 2]}, "legend": {"title": null, "orient": "top-left"}}
          }
        }
      ]
    },
    {
      "title": "XR Scattering Curves",
      "width": 401,
      "height": 288,
      "data": {"name": "xr_scattering"},
      "transform": [{"fold": ["component-1", "component-2", "component-3"], "as": ["series", "intensity"]}],
      "mark": {"type": "line", "clip": true, "strokeCap": "butt", "strokeDash": [1.5, 2.5], "strokeWidth": 1.5},
      "encoding": {
        "x": {"field": "q", "type": "quantitative", "title": "Q [Å⁻¹]", "scale": {"domain": [-0.0068, 0.4468], "nice": false, "zero": false}, "axis": {"values": [0, 0.1, 0.2, 0.3, 0.4], "format": ".1f"}},
        "y": {"field": "intensity", "type": "quantitative", "title": "log₁₀(I)", "scale": {"type": "log", "domain": [0.00000656, 1.86], "nice": false}, "axis": {"values": [0.00001, 0.0001, 0.001, 0.01, 0.1, 1], "labelExpr": "datum.value > 0.5 ? '10⁰' : datum.value > 0.05 ? '10⁻¹' : datum.value > 0.005 ? '10⁻²' : datum.value > 0.0005 ? '10⁻³' : datum.value > 0.00005 ? '10⁻⁴' : '10⁻⁵'"}},
        "color": {"field": "series", "type": "nominal", "scale": {"domain": ["component-1", "component-2", "component-3"], "range": ["#1f77b4", "#ff7f0e", "#2ca02c"]}, "legend": {"title": null, "orient": "top-right", "symbolDash": [1.5, 2.5]}}
      }
    },
    {
      "title": "XR Kratky Plot",
      "width": 401,
      "height": 288,
      "layer": [
        {
          "data": {"name": "kratky_1"},
          "mark": {"type": "line", "clip": true, "strokeCap": "butt", "strokeDash": [1.5, 2.5], "strokeWidth": 1.5},
          "encoding": {
            "x": {"field": "x", "type": "quantitative", "title": "QRg", "scale": {"domain": [-0.45, 16.26], "nice": false, "zero": false}, "axis": {"values": [0, 2, 4, 6, 8, 10, 12, 14, 16], "titleFontStyle": "italic"}},
            "y": {"field": "y", "type": "quantitative", "title": "(QRg)² × I(Q)/I₀", "scale": {"domain": [-0.518, 1.711], "nice": false, "zero": false}, "axis": {"values": [-0.5, -0.25, 0, 0.25, 0.5, 0.75, 1.0, 1.25, 1.5], "format": ".2f"}},
            "color": {"datum": "component-1", "type": "nominal", "scale": {"domain": ["component-1", "component-2", "component-3"], "range": ["#1f77b4", "#ff7f0e", "#2ca02c"]}, "legend": {"title": null, "orient": "none", "legendX": 129.7, "legendY": 6.6, "symbolDash": [1.5, 2.5]}}
          }
        },
        {
          "data": {"name": "kratky_2"},
          "mark": {"type": "line", "clip": true, "strokeCap": "butt", "strokeDash": [1.5, 2.5], "strokeWidth": 1.5},
          "encoding": {
            "x": {"field": "x", "type": "quantitative", "title": "QRg"},
            "y": {"field": "y", "type": "quantitative", "title": "(QRg)² × I(Q)/I₀"},
            "color": {"datum": "component-2", "type": "nominal"}
          }
        },
        {
          "data": {"name": "kratky_3"},
          "mark": {"type": "line", "clip": true, "strokeCap": "butt", "strokeDash": [1.5, 2.5], "strokeWidth": 1.5},
          "encoding": {
            "x": {"field": "x", "type": "quantitative", "title": "QRg"},
            "y": {"field": "y", "type": "quantitative", "title": "(QRg)² × I(Q)/I₀"},
            "color": {"datum": "component-3", "type": "nominal"}
          }
        },
        {
          "data": {"values": [{"level": 0}]},
          "mark": {"type": "rule", "stroke": "rgba(255,0,0,0.5)", "strokeWidth": 2},
          "encoding": {"y": {"field": "level", "type": "quantitative", "title": "(QRg)² × I(Q)/I₀"}}
        },
        {
          "data": {"values": [{"level": 1.10364}]},
          "mark": {"type": "rule", "stroke": "gray", "strokeWidth": 1.5, "strokeDash": [1.5, 2.5]},
          "encoding": {"y": {"field": "level", "type": "quantitative", "title": "(QRg)² × I(Q)/I₀"}}
        },
        {
          "data": {"values": [{"at": 1.73205}]},
          "mark": {"type": "rule", "stroke": "gray", "strokeWidth": 1.5, "strokeDash": [1.5, 2.5]},
          "encoding": {"x": {"field": "at", "type": "quantitative", "title": "QRg"}}
        },
        {
          "data": {"values": [{"x": 16.26, "y": 1.10364, "t": "3/e"}, {"x": 1.73205, "y": -0.518, "t": "√3̅"}]},
          "mark": {"type": "text", "align": "right", "baseline": "bottom", "fontSize": 14, "color": "black", "dy": -2},
          "encoding": {
            "x": {"field": "x", "type": "quantitative", "title": "QRg"},
            "y": {"field": "y", "type": "quantitative", "title": "(QRg)² × I(Q)/I₀"},
            "text": {"field": "t", "type": "nominal"}
          }
        }
      ]
    }
  ],
  "config": {
    "font": "DejaVu Sans",
    "view": {"stroke": "black", "strokeWidth": 1},
    "title": {"fontSize": 16.7, "fontWeight": "normal", "color": "black", "offset": 5.4, "font": "DejaVu Sans"},
    "axis": {
      "domain": false,
      "grid": false,
      "ticks": true,
      "tickColor": "black",
      "tickWidth": 1,
      "tickSize": 5,
      "labelFont": "DejaVu Sans",
      "labelFontSize": 14,
      "labelColor": "black",
      "labelPadding": 5,
      "labelFlush": false,
      "labelOverlap": false,
      "titleFont": "DejaVu Sans",
      "titleFontSize": 14,
      "titleFontWeight": "normal",
      "titleColor": "black",
      "titlePadding": 4
    },
    "legend": {
      "labelFont": "DejaVu Sans",
      "labelFontSize": 14,
      "labelColor": "black",
      "labelLimit": 400,
      "fillColor": "rgba(255,255,255,0.8)",
      "strokeColor": "#cccccc",
      "cornerRadius": 3,
      "padding": 5.6,
      "rowPadding": 7,
      "symbolType": "M-2.9,0H2.9",
      "symbolSize": 100,
      "symbolOffset": 11.5,
      "labelOffset": 15.7,
      "symbolStrokeWidth": 1.5,
      "offset": 7
    }
  }
}
